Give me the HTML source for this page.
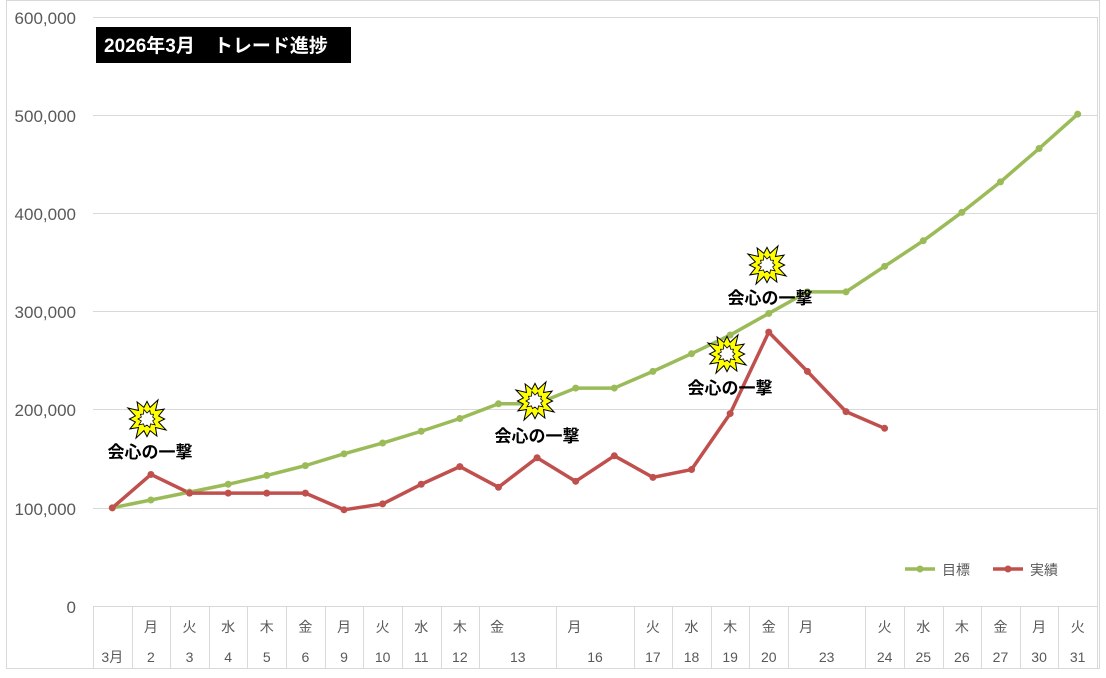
<!DOCTYPE html>
<html><head><meta charset="utf-8"><style>
body{margin:0;background:#fff}
svg text{font-family:"Liberation Sans","Noto Sans CJK JP",sans-serif}
</style></head><body>
<svg width="1106" height="673" xmlns="http://www.w3.org/2000/svg">
<rect x="6.5" y="0.5" width="1093" height="668" fill="#fff" stroke="#d9d9d9"/>
<g stroke="#d9d9d9" stroke-width="1">
<line x1="93" y1="17.5" x2="1097" y2="17.5"/>
<line x1="93" y1="115.5" x2="1097" y2="115.5"/>
<line x1="93" y1="213.5" x2="1097" y2="213.5"/>
<line x1="93" y1="311.5" x2="1097" y2="311.5"/>
<line x1="93" y1="409.5" x2="1097" y2="409.5"/>
<line x1="93" y1="508.5" x2="1097" y2="508.5"/>
<line x1="93" y1="606.5" x2="1097" y2="606.5"/>
<line x1="1097.5" y1="17" x2="1097.5" y2="668"/>
<g id="seps"></g>
</g>
<g fill="#595959" font-size="17" text-anchor="end">
<text x="76" y="24">600,000</text><text x="76" y="122">500,000</text><text x="76" y="220">400,000</text>
<text x="76" y="318">300,000</text><text x="76" y="416">200,000</text><text x="76" y="515">100,000</text><text x="76" y="613">0</text>
</g>
<g id="axis" fill="#595959" font-size="14"></g>
<polyline id="g" fill="none" stroke="#9bbb59" stroke-width="3.5" stroke-linejoin="round"/>
<polyline id="r" fill="none" stroke="#c0504d" stroke-width="3.5" stroke-linejoin="round"/>
<g id="dots"></g>
<rect x="96" y="27" width="255" height="36" fill="#000"/>
<text x="104" y="52" fill="#fff" font-size="19" font-weight="bold">2026年3月　トレード進捗</text>
<g id="stars"></g>
<g font-size="17" font-weight="bold" text-anchor="middle" fill="#000">
<text x="150" y="458">会心の一撃</text>
<text x="537" y="442">会心の一撃</text>
<text x="730" y="394">会心の一撃</text>
<text x="770" y="304">会心の一撃</text>
</g>
<line x1="905" y1="569" x2="935" y2="569" stroke="#9bbb59" stroke-width="3.5"/><circle cx="920" cy="569" r="3.5" fill="#9bbb59"/>
<text x="942" y="575" font-size="14" fill="#595959">目標</text>
<line x1="993" y1="569" x2="1023" y2="569" stroke="#c0504d" stroke-width="3.5"/><circle cx="1008" cy="569" r="3.5" fill="#c0504d"/>
<text x="1030" y="575" font-size="14" fill="#595959">実績</text>
</svg>
<script>
const ns="http://www.w3.org/2000/svg";
const x0=93,w=1004/26;
const X=i=>x0+w*(i+0.5), Y=v=>606-v*0.9817;
const G=[100,108,116,124,133,143,155,166,178,191,206,206,222,222,239,257,276,298,320,320,346,372,401,432,466,501];
const R=[100,134,115,115,115,115,98,104,124,142,121,151,127,153,131,139,196,279,239,198,181];
document.getElementById('g').setAttribute('points',G.map((v,i)=>X(i)+','+Y(v)).join(' '));
document.getElementById('r').setAttribute('points',R.map((v,i)=>X(i)+','+Y(v)).join(' '));
const dots=document.getElementById('dots');
function c(x,y,f){const e=document.createElementNS(ns,'circle');e.setAttribute('cx',x);e.setAttribute('cy',y);e.setAttribute('r',3.5);e.setAttribute('fill',f);dots.appendChild(e);}
G.forEach((v,i)=>c(X(i),Y(v),'#9bbb59'));R.forEach((v,i)=>c(X(i),Y(v),'#c0504d'));
const cells=[[1,'','3月'],[1,'月','2'],[1,'火','3'],[1,'水','4'],[1,'木','5'],[1,'金','6'],[1,'月','9'],[1,'火','10'],[1,'水','11'],[1,'木','12'],[2,'金','13'],[2,'月','16'],[1,'火','17'],[1,'水','18'],[1,'木','19'],[1,'金','20'],[2,'月','23'],[1,'火','24'],[1,'水','25'],[1,'木','26'],[1,'金','27'],[1,'月','30'],[1,'火','31']];
const ax=document.getElementById('axis'),seps=document.getElementById('seps');
let k=0;
function t(x,y,s,a){const e=document.createElementNS(ns,'text');e.setAttribute('x',x);e.setAttribute('y',y);e.setAttribute('text-anchor',a);e.textContent=s;ax.appendChild(e);}
function l(x){const e=document.createElementNS(ns,'line');e.setAttribute('x1',x);e.setAttribute('x2',x);e.setAttribute('y1',606);e.setAttribute('y2',668);seps.appendChild(e);}
l(x0+0.5);
cells.forEach(([s,d,n])=>{const a=x0+w*k,b=x0+w*(k+s);k+=s;
 if(d){ if(s==1) t((a+b)/2,632,d,'middle'); else t(a+11,632,d,'start'); }
 t((a+b)/2,662,n,'middle'); l(Math.round(b)+0.5);});
const st=document.getElementById('stars');
function star(cx,cy,R1,R2,n){let p=[];for(let i=0;i<2*n;i++){const r=i%2?R2:R1*(0.8+0.2*((i*7)%3)/2),an=Math.PI*i/n;p.push((cx+r*Math.cos(an)).toFixed(1)+','+(cy+r*Math.sin(an)).toFixed(1));}return p.join(' ');}
[[147,419],[535,401],[727,354],[767,265]].forEach(([x,y])=>{
 const a=document.createElementNS(ns,'polygon');a.setAttribute('points',star(x,y,22,12,12));a.setAttribute('fill','#ffff00');a.setAttribute('stroke','#000');a.setAttribute('stroke-width','1');st.appendChild(a);
 const b=document.createElementNS(ns,'polygon');b.setAttribute('points',star(x,y,10,6,10));b.setAttribute('fill','#fff');b.setAttribute('stroke','#000');b.setAttribute('stroke-width','0.8');st.appendChild(b);});
</script>
</body></html>
